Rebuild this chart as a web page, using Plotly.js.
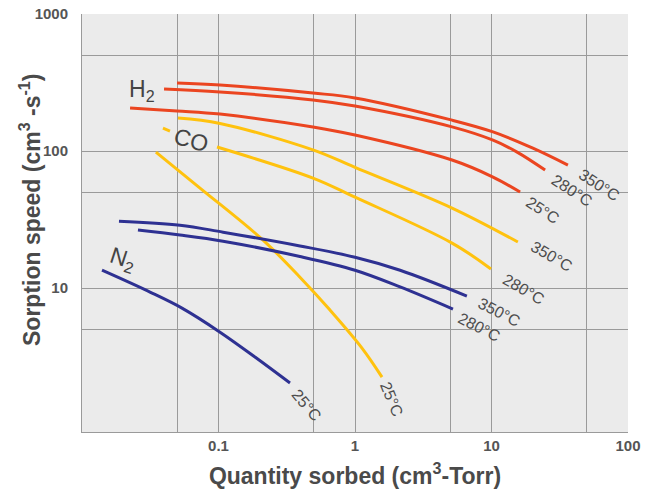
<!DOCTYPE html>
<html>
<head>
<meta charset="utf-8">
<script src="https://cdn.plot.ly/plotly-3.0.1.min.js"></script>
<style>
  html, body { margin: 0; padding: 0; background: #ffffff; }
  #chart { width: 657px; height: 489px; }
</style>
</head>
<body>
<div id="chart"></div>
<script>
// ---- Data ----
// H2 curves
const h2_350_x = [0.0497, 0.1026, 0.492, 1.0, 5.14, 10.26, 20.1, 36.3];
const h2_350_y = [314, 303, 265, 244, 168, 138, 105, 79];
const h2_280_x = [0.0399, 0.1026, 0.492, 1.0, 5.14, 10.26, 15.4, 24.7];
const h2_280_y = [284, 270, 236, 213, 150, 120, 98.3, 72.7];
const h2_25_x  = [0.0225, 0.0497, 0.1026, 0.492, 1.0, 5.14, 10.26, 16.2];
const h2_25_y  = [206, 196, 186, 150, 131, 86, 64.6, 50.2];
// CO curves (280 °C line is interrupted by the "CO" label)
const co_350_x = [0.0505, 0.1026, 0.492, 1.0, 5.14, 15.6];
const co_350_y = [174, 159, 102, 76, 38.4, 21.7];
const co_280_x = [0.0392, 0.0441, null, 0.0975, 0.492, 1.0, 5.14, 9.91];
const co_280_y = [147, 140, null, 107, 63.5, 46.1, 21.3, 13.8];
const co_25_x  = [0.0348, 0.0732, 0.212, 0.395, 0.656, 1.125, 1.577];
const co_25_y  = [98.3, 53.7, 22.4, 12.0, 6.91, 3.65, 2.24];
// N2 curves
const n2_350_x = [0.01866, 0.0522, 0.108, 0.395, 1.0, 2.14, 6.6];
const n2_350_y = [30.8, 28.8, 25.6, 20.3, 16.8, 13.5, 8.75];
const n2_280_x = [0.0257, 0.0522, 0.108, 0.395, 1.0, 2.14, 5.22];
const n2_280_y = [26.5, 24.4, 22.0, 17.0, 13.5, 10.2, 7.03];
const n2_25_x  = [0.01401, 0.03148, 0.054, 0.1026, 0.185, 0.334];
const n2_25_y  = [13.5, 9.35, 7.14, 4.77, 3.14, 2.03];

// Axis ticks (labelled) and unlabelled grid lines
const xTickVals = [0.1, 1, 10, 100];
const xTickText = ['0.1', '1', '10', '100'];
const xMinorVals = [0.05, 0.5, 5, 50];
const yTickVals = [10, 100, 1000];
const yTickText = ['10', '100', '1000'];
const yMinorVals = [5, 50, 500];

const xTitle = 'Quantity sorbed (cm<sup>3</sup>-Torr)';
const yTitle = 'Sorption speed (cm<sup>3</sup> -s<sup>-1</sup>)';

// ---- Styling ----
const RED = '#eb4520';
const GOLD = '#ffc20e';
const NAVY = '#2e3192';
const LABEL = '#4d4d4d';
const GRID = '#9a9a9a';
const FONT = 'Liberation Sans, Arial, Helvetica, sans-serif';

const series = [
  {x: h2_350_x, y: h2_350_y, color: RED,  label: '350°C', dx: 32, dy: 20, ang: 33},
  {x: h2_280_x, y: h2_280_y, color: RED,  label: '280°C', dx: 27, dy: 20, ang: 33},
  {x: h2_25_x,  y: h2_25_y,  color: RED,  label: '25°C',  dx: 23, dy: 18, ang: 33},
  {x: co_350_x, y: co_350_y, color: GOLD, label: '350°C', dx: 34, dy: 15, ang: 30},
  {x: co_280_x, y: co_280_y, color: GOLD, label: '280°C', dx: 33, dy: 21, ang: 30},
  {x: co_25_x,  y: co_25_y,  color: GOLD, label: '25°C',  dx: 10, dy: 22, ang: 68},
  {x: n2_350_x, y: n2_350_y, color: NAVY, label: '350°C', dx: 33, dy: 16, ang: 27},
  {x: n2_280_x, y: n2_280_y, color: NAVY, label: '280°C', dx: 27, dy: 18, ang: 27},
  {x: n2_25_x,  y: n2_25_y,  color: NAVY, label: '25°C',  dx: 17, dy: 22, ang: 50}
];

const traces = series.map(s => ({
  type: 'scatter', mode: 'lines', x: s.x, y: s.y,
  line: {color: s.color, width: 3, shape: 'spline', smoothing: 1.0},
  connectgaps: false, hoverinfo: 'skip', showlegend: false
}));

const annotations = series.map(s => {
  const n = s.x.length - 1;
  return {
    xref: 'x', yref: 'y', x: Math.log10(s.x[n]), y: Math.log10(s.y[n]),
    text: s.label, showarrow: false, textangle: s.ang,
    xshift: s.dx, yshift: -s.dy,
    font: {family: FONT, size: 16, color: LABEL}
  };
});

// Gas labels, placed relative to the start of a curve
const gasLabels = [
  {text: 'H<sub>2</sub>', x: h2_280_x[0], y: h2_280_y[0], dx: -22, dy: 2, ang: 0},
  {text: 'CO', x: co_350_x[0], y: co_350_y[0], dx: 13, dy: 22, ang: 15},
  {text: 'N<sub>2</sub>', x: n2_25_x[0], y: n2_25_y[0], dx: 21, dy: -11, ang: 18}
];
gasLabels.forEach(g => annotations.push({
  xref: 'x', yref: 'y', x: Math.log10(g.x), y: Math.log10(g.y),
  text: g.text, showarrow: false, textangle: g.ang,
  xshift: g.dx, yshift: -g.dy,
  font: {family: FONT, size: 23, color: '#444444'}
}));

// Y-axis title (placed as in the reference, slightly above the plot centre)
annotations.push({
  xref: 'paper', yref: 'paper', x: 0, y: 0.5, xanchor: 'center', yanchor: 'middle',
  xshift: -52, yshift: 13,
  text: yTitle, showarrow: false, textangle: -90,
  font: {family: FONT, size: 23, color: '#4a4a4a', weight: 'bold'}
});

const layout = {
  width: 657, height: 489,
  margin: {l: 82, r: 29, t: 14, b: 57},
  paper_bgcolor: '#ffffff',
  plot_bgcolor: '#ebebeb',
  font: {family: FONT, color: '#555555'},
  showlegend: false,
  xaxis: {
    type: 'log', range: [-2, 2],
    tickmode: 'array', tickvals: xTickVals, ticktext: xTickText,
    showgrid: true, gridcolor: GRID, gridwidth: 1,
    minor: {tickmode: 'array', tickvals: xMinorVals, showgrid: true, gridcolor: GRID, gridwidth: 1, ticks: ''},
    showline: true, linecolor: GRID, linewidth: 1, mirror: false,
    zeroline: false, ticks: '',
    tickfont: {family: FONT, size: 15, color: '#555555', weight: 'bold'},
    title: {text: xTitle,
            font: {family: FONT, size: 23, color: '#4a4a4a', weight: 'bold'}, standoff: 16}
  },
  yaxis: {
    type: 'log', range: [-0.05, 3],
    tickmode: 'array', tickvals: yTickVals, ticktext: yTickText,
    showgrid: true, gridcolor: GRID, gridwidth: 1,
    minor: {tickmode: 'array', tickvals: yMinorVals, showgrid: true, gridcolor: GRID, gridwidth: 1, ticks: ''},
    showline: true, linecolor: GRID, linewidth: 1, mirror: false,
    zeroline: false, ticks: '', ticklabelstandoff: 10,
    tickfont: {family: FONT, size: 15, color: '#555555', weight: 'bold'}
  },
  annotations: annotations
};

Plotly.newPlot('chart', traces, layout, {staticPlot: true, displayModeBar: false});
</script>
</body>
</html>
